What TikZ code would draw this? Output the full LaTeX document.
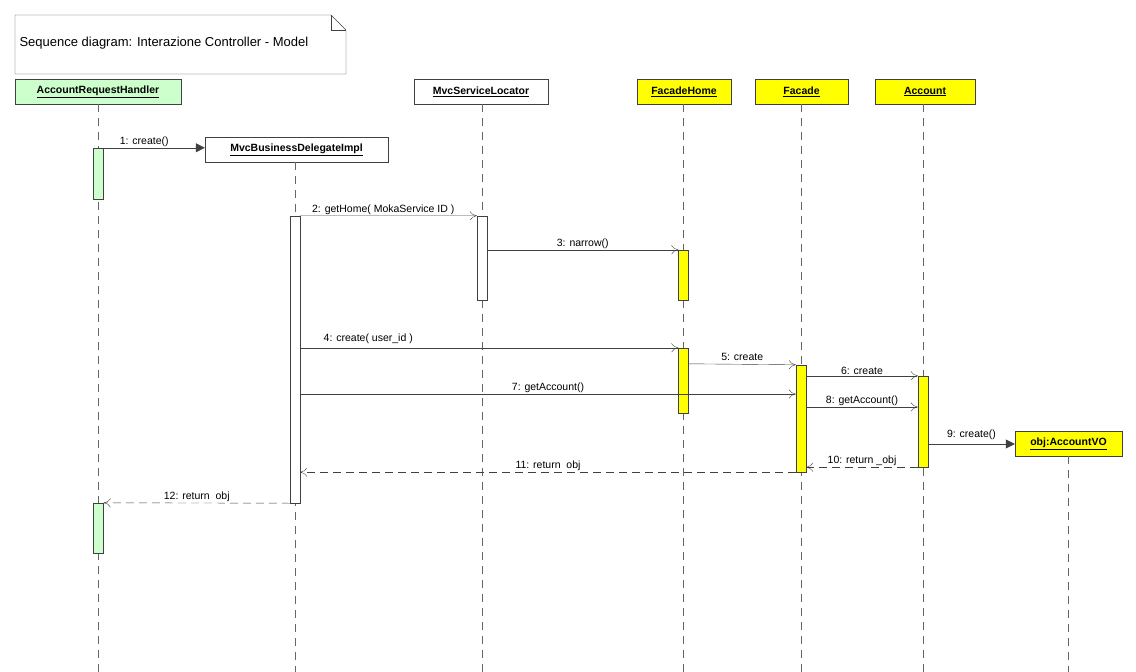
\documentclass[tikz,border=0pt]{standalone}
\usepackage{fontspec}
\setmainfont{Liberation Sans}
\usepackage[x11names, rgb]{xcolor}
\usetikzlibrary{calc,arrows,arrows.meta,shapes,positioning}

\definecolor{actgreen}{RGB}{204,255,204}
\definecolor{actyellow}{RGB}{255,255,0}
\tikzset{
	obj/.style={draw=black!75, fill=white, inner sep=0pt, minimum height=25bp, font=\fontsize{10.5bp}{12bp}\selectfont\bfseries},
	act/.style={draw=black!75, fill=white, minimum width=10bp, inner sep=0pt},
	life/.style={draw=black!60, dash pattern=on 8bp off 6bp},
	msg/.style={draw=black!75, -{To[open,length=7bp,width=9bp]}},
	newmsg/.style={draw=black!75, -{Triangle[length=9bp,width=9bp]}},
	ret/.style={msg, dash pattern=on 8bp off 5bp},
	lbl/.style={font=\fontsize{10.5bp}{12bp}\selectfont, inner sep=1bp}
}
\newcommand{\objname}[1]{\underline{#1}}

\begin{document}
\begin{tikzpicture}[x=1bp,y=-1bp]
	\useasboundingbox (0,0) rectangle (1136,672);

	% note
	\draw[black!75] (15,15) -- (331,15) -- (346,30) -- (346,74) -- (15,74) -- cycle;
	\draw[black!75] (331,15) -- (331,30) -- (346,30);
	\node[anchor=west, font=\fontsize{13bp}{15bp}\selectfont] (title) at (16,43) {Sequence diagram: Interazione Controller - Model};

	% objects
	\node (arh) at (98,91.5)  [obj, fill=actgreen, minimum width=166bp] {\objname{AccountRequestHandler}};
	\node (msl) at (481,91.5) [obj, minimum width=134bp] {\objname{MvcServiceLocator}};
	\node (fh) at (684,91.5)  [obj, fill=actyellow, minimum width=94bp] {\objname{FacadeHome}};
	\node (fac) at (801.5,91.5) [obj, fill=actyellow, minimum width=93bp] {\objname{Facade}};
	\node (acc) at (925,91.5) [obj, fill=actyellow, minimum width=100bp] {\objname{Account}};
	\node (bdi) at (296.5,149.5) [obj, minimum width=183bp] {\objname{MvcBusinessDelegateImpl}};
	\node (vo) at (1068.5,443.5) [obj, fill=actyellow, minimum width=107bp] {\objname{obj:AccountVO}};

	% lifelines
	\foreach \o/\x in {arh/98.5, msl/482, fh/683.5, fac/801, acc/923, bdi/295, vo/1068}
		\draw[life] (\o.south -| \x,0) -- (\x,672);

	% activations
	\node (arh1) at (98.5,173.5) [act, fill=actgreen, minimum height=51bp] {};
	\node (arh2) at (98.5,528) [act, fill=actgreen, minimum height=50bp] {};
	\node (bdi1) at (295,359.5) [act, minimum height=287bp] {};
	\node (msl1) at (482,258) [act, minimum height=84bp] {};
	\node (fh1) at (683.5,275) [act, fill=actyellow, minimum height=50bp] {};
	\node (fh2) at (683.5,380.5) [act, fill=actyellow, minimum height=65bp] {};
	\node (fac1) at (801,418.5) [act, fill=actyellow, minimum height=107bp] {};
	\node (acc1) at (923,421.5) [act, fill=actyellow, minimum height=91bp] {};

	% messages
	\draw [newmsg] (arh1.north east) -- node[lbl, above, xshift=-10bp] {1: create()} (bdi.west |- arh1.north);
	\draw [msg] (bdi1.north east) -- node[lbl, above, pos=0.47] {2: getHome( MokaService ID )} (msl1.north west);
	\draw [msg] (msl1.east |- fh1.north) -- node[lbl, above] {3: narrow()} (fh1.north west);
	\draw [msg] (bdi1.east |- fh2.north) -- node[lbl, above=3bp, pos=0.18] {4: create( user\_id )} (fh2.north west);
	\draw [msg] ($(fh2.east |- fac1.north)+(0,-1)$) -- node[lbl, above=3bp] {5: create} (fac1.north west);
	\draw [msg] (fac1.east |- acc1.north) -- node[lbl, above] {6: create} (acc1.north west);
	\draw [msg] ($(bdi1.east)+(0,34.5)$) coordinate (m7) -- node[lbl, above] {7: getAccount()} (fac1.west |- m7);
	\draw [msg] ($(fac1.east)+(0,-11.5)$) coordinate (m8) -- node[lbl, above] {8: getAccount()} (acc1.west |- m8);
	\draw [newmsg] ($(acc1.east)+(0,22.5)$) coordinate (m9) -- node[lbl, above=3bp] {9: create()} (vo.west |- m9);
	\draw [ret] (acc1.south west) -- node[lbl, above] {10: return \_obj} (fac1.east |- acc1.south);
	\draw [ret] (fac1.south west) -- node[lbl, above] {11: return\ \ obj} (bdi1.east |- fac1.south);
	\draw [ret] (bdi1.south west) -- node[lbl, above] {12: return\ \ obj} (arh2.north east);
\end{tikzpicture}
\end{document}
